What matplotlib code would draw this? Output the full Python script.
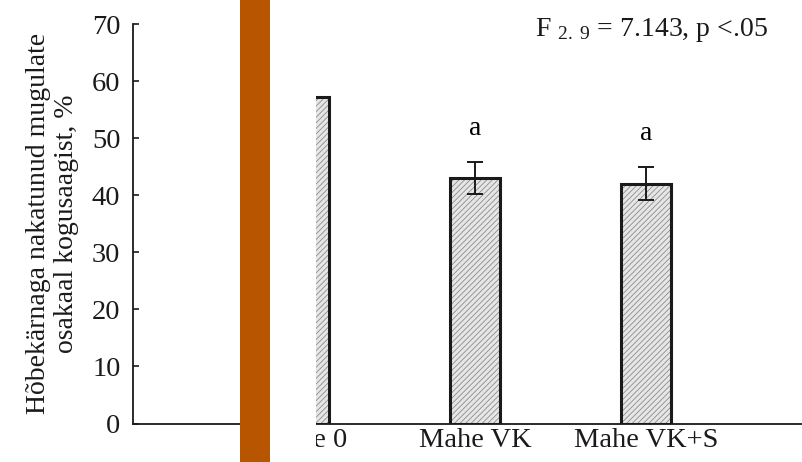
import numpy as np
import matplotlib.pyplot as plt
from matplotlib.patches import Rectangle

plt.rcParams['font.family'] = ['Liberation Serif', 'DejaVu Serif']
plt.rcParams['mathtext.fontset'] = 'custom'
plt.rcParams['mathtext.rm'] = 'Liberation Serif'
plt.rcParams['mathtext.it'] = 'Liberation Serif:italic'
plt.rcParams['hatch.linewidth'] = 0.6

# andmed
groups = ['Mahe 0', 'Mahe VK', 'Mahe VK+S']
means = [57.2, 43.0, 42.0]
errs = [0.0, 2.8, 2.9]
letters = ['', 'a', 'a']
stat_text = 'F $_{\\mathrm{2.\\ 9}}$ = 7.143, p <.05'

x = np.arange(len(groups))

fig = plt.figure(figsize=(8.03, 4.62), dpi=100)
ax = fig.add_axes([133/803, 38.5/462, 1 - 133/803, 399.5/462])

# hatch fill, then black outline
ax.bar(x, means, width=0.29, color='#e6e6e6', edgecolor='#8c8c8c',
       hatch='//////', linewidth=0, zorder=2)
ax.bar(x, means, width=0.29, fill=False, edgecolor='#1a1a1a',
       linewidth=2.2, zorder=3)
ax.errorbar(x, means, yerr=errs, fmt='none', ecolor='#1a1a1a',
            elinewidth=1.4, capsize=6, capthick=1.4, zorder=4)
for xi, m, e, lab in zip(x, means, errs, letters):
    ax.text(xi, m + e + 5.9, lab, ha='center', va='center', fontsize=20)

ax.set_xlim(-1, 2.92)
ax.set_ylim(0, 70)
ax.set_yticks(range(0, 71, 10))
ax.set_xticks(x)
ax.set_xticklabels(groups)
ax.tick_params(axis='both', direction='in', length=4, width=1.2,
               labelsize=20.5, colors='#1a1a1a')
ax.tick_params(axis='x', pad=3)
ax.tick_params(axis='y', pad=9)
for s in ['top', 'right']:
    ax.spines[s].set_visible(False)
for s in ['left', 'bottom']:
    ax.spines[s].set_linewidth(1.3)
    ax.spines[s].set_color('#1a1a1a')

ax.set_ylabel('Hõbekärnaga nakatunud mugulate\nosakaal kogusaagist, %',
              fontsize=20, linespacing=1.2, color='#1a1a1a')
ax.yaxis.set_label_coords(-0.08, 0.5)
ax.text(0.948, 0.985, stat_text, transform=ax.transAxes, ha='right',
        va='center', fontsize=20, color='#1a1a1a')

# overlay blocks
fig.patches.append(Rectangle((270/803, 0), 46/803, 1, transform=fig.transFigure,
                             facecolor='white', edgecolor='none', zorder=10))
fig.patches.append(Rectangle((240/803, 0), 30/803, 1, transform=fig.transFigure,
                             facecolor='#b85500', edgecolor='none', zorder=11))

fig.savefig('out.png', dpi=100)
